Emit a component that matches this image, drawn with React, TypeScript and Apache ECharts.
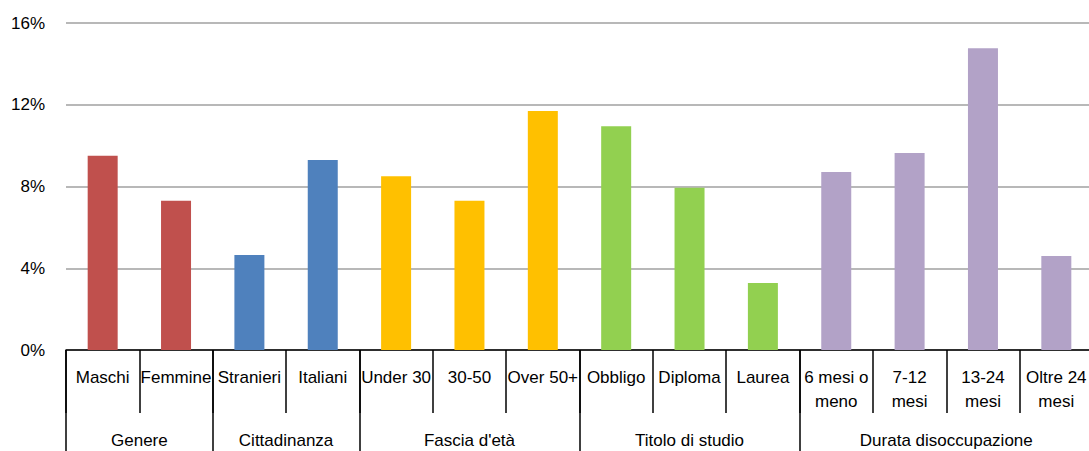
import React, { useEffect, useRef } from "react";
import * as echarts from "echarts";

const categories = [
  "Maschi", "Femmine",
  "Stranieri", "Italiani",
  "Under 30", "30-50", "Over 50+",
  "Obbligo", "Diploma", "Laurea",
  "6 mesi o\nmeno", "7-12\nmesi", "13-24\nmesi", "Oltre 24\nmesi",
];
const values = [9.5, 7.3, 4.65, 9.3, 8.5, 7.3, 11.7, 10.95, 7.94, 3.28, 8.71, 9.64, 14.77, 4.6];
const groupNames = ["Genere", "Cittadinanza", "Fascia d'età", "Titolo di studio", "Durata disoccupazione"];
const groupSizes = [2, 2, 3, 3, 4];
const groupColors = ["#C0504D", "#4F81BD", "#FFC000", "#92D050", "#B2A2C7"];
const yMin = 0;
const yMax = 16;
const yStep = 4;

const FONT = "'Liberation Sans', Arial, sans-serif";
const FS = 17;

export default function App() {
  const ref = useRef<HTMLDivElement>(null);
  useEffect(() => {
    if (!ref.current) return;
    const chart = echarts.init(ref.current, undefined, { renderer: "svg" });

    const groupStarts: number[] = [];
    const catGroup: number[] = [];
    let acc = 0;
    groupSizes.forEach((s, g) => {
      groupStarts.push(acc);
      for (let i = 0; i < s; i++) catGroup.push(g);
      acc += s;
    });

    chart.setOption({
      animation: false,
      grid: { left: 66, right: 7, top: 23, bottom: 101, containLabel: false },
      xAxis: [
        {
          type: "category",
          data: categories,
          position: "bottom",
          axisLine: { show: true, lineStyle: { color: "#000", width: 1.5 } },
          axisTick: { show: true, interval: 0, length: 63, lineStyle: { color: "#000", width: 1.5 } },
          axisLabel: {
            interval: 0,
            color: "#000",
            fontSize: FS,
            fontFamily: FONT,
            margin: 15,
            lineHeight: 24,
            verticalAlign: "top",
          },
          splitLine: { show: false },
        },
        {
          type: "category",
          data: categories,
          position: "bottom",
          axisLine: { show: false },
          axisTick: {
            show: true,
            interval: (index: number) => groupStarts.includes(index),
            length: 105,
            lineStyle: { color: "#000", width: 1.5 },
          },
          axisLabel: { show: false },
          splitLine: { show: false },
        },
      ],
      yAxis: {
        type: "value",
        min: yMin,
        max: yMax,
        interval: yStep,
        axisLine: { show: false },
        axisTick: { show: false },
        axisLabel: {
          formatter: "{value}%",
          color: "#000",
          fontSize: FS,
          fontFamily: FONT,
          margin: 21,
        },
        splitLine: { show: true, lineStyle: { color: "#A0A0A0", width: 1.5 } },
      },
      series: [
        {
          type: "bar",
          xAxisIndex: 0,
          barWidth: 30,
          data: values.map((v, i) => ({
            value: v,
            itemStyle: { color: groupColors[catGroup[i]] },
          })),
        },
      ],
    });

    const graphics = groupNames.map((name, g) => {
      const first = groupStarts[g];
      const last = first + groupSizes[g] - 1;
      const x1 = chart.convertToPixel({ xAxisIndex: 0 }, first) as number;
      const x2 = chart.convertToPixel({ xAxisIndex: 0 }, last) as number;
      const y0 = chart.convertToPixel({ yAxisIndex: 0 }, 0) as number;
      return {
        type: "text",
        x: (x1 + x2) / 2,
        y: y0 + 90,
        style: {
          text: name,
          fill: "#000",
          fontSize: FS,
          fontFamily: FONT,
          textAlign: "center",
          textVerticalAlign: "middle",
        },
      };
    });
    chart.setOption({ graphic: graphics });

    return () => chart.dispose();
  }, []);

  return (
    <div style={{ position: "fixed", left: 0, top: 0, width: 1089, height: 451, overflow: "hidden", background: "#fff" }}>
      <div ref={ref} style={{ width: 1100, height: 451 }} />
    </div>
  );
}
